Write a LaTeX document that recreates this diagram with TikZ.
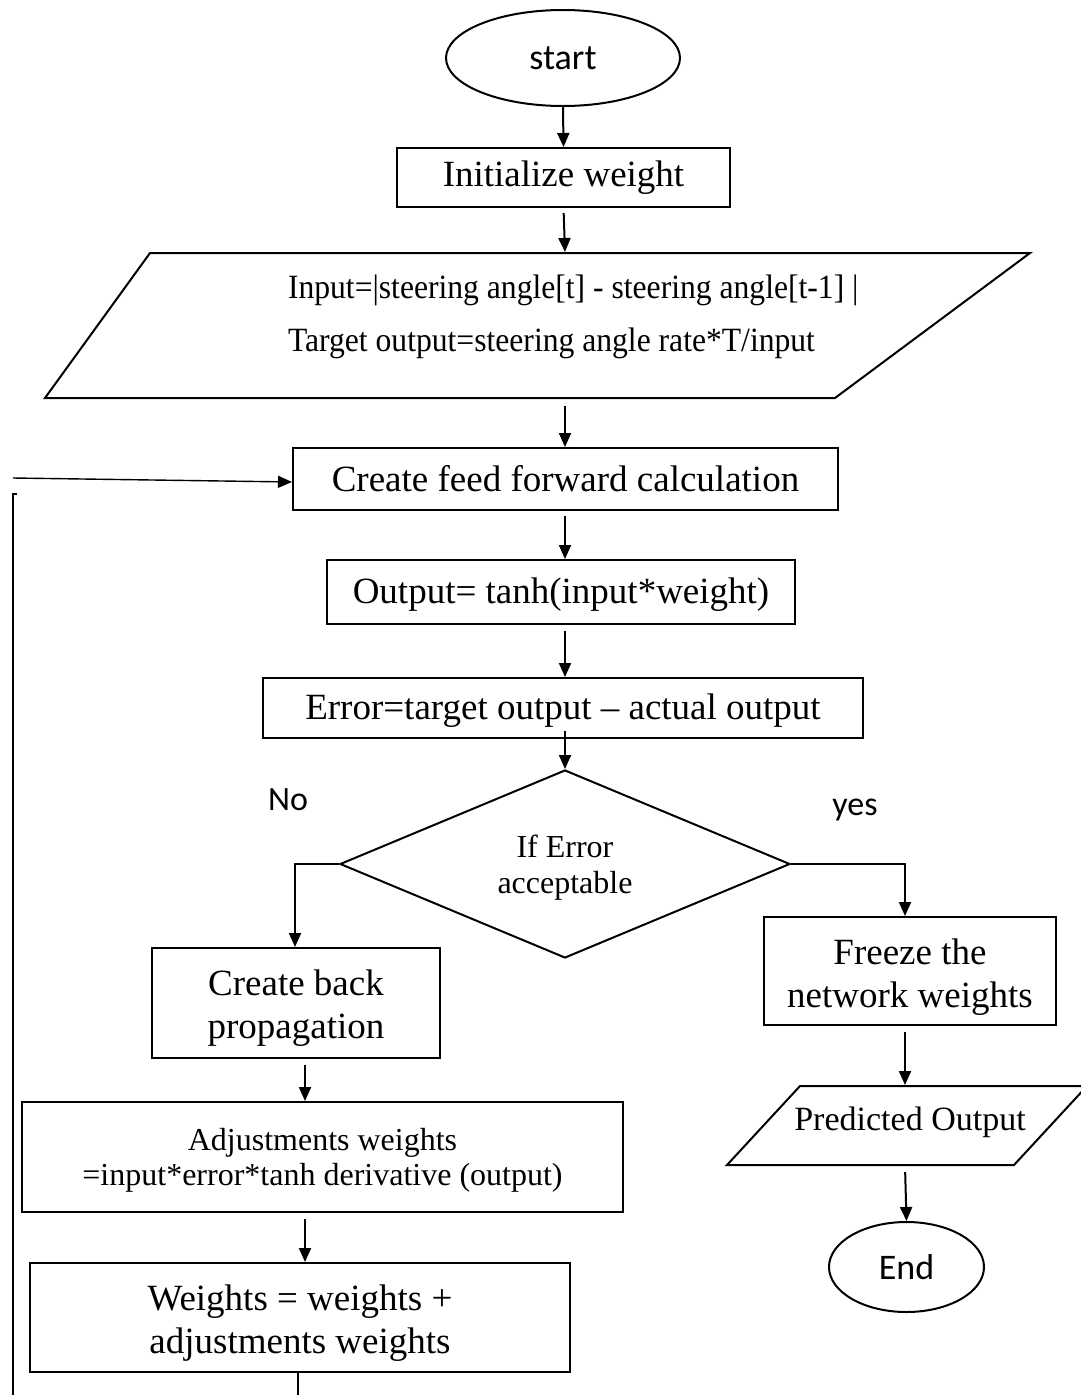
\documentclass[tikz,border=0pt]{standalone}
\usepackage{fontspec}
\setmainfont{Liberation Serif}
\newfontfamily\sansf{Carlito}
\newfontfamily\narrowf[FakeStretch=0.93]{Liberation Serif}
\usetikzlibrary{arrows.meta,shapes.geometric,calc}
\newcommand{\fs}[2]{\fontsize{#1}{#2}\selectfont}
% a strut on a first line lowers a multi-line label inside its box
\newcommand{\lowr}[1]{\rule{0pt}{#1}}
\begin{document}
\begin{tikzpicture}[x=1pt,y=-1pt,line width=2pt,
  box/.style={draw,rectangle,inner sep=0pt,align=center,font=\fs{37}{43}},
  term/.style={draw,ellipse,inner sep=0pt,font=\sansf\fs{36}{40}},
  anchorbox/.style={rectangle,inner sep=0pt},
  arr/.style={-{Triangle[length=14pt,width=12pt]},line width=2pt},
  lbl/.style={font=\sansf\fs{34}{40}}]
\useasboundingbox (0,0) rectangle (1081,1395);
\fill[white] (0,0) rectangle (1081,1395);

% terminals and process boxes
\node[term,minimum width=234,minimum height=96] (start) at (563,58) {start};
\node[box,minimum width=333,minimum height=59] (init) at (563.5,177.5) {Initialize weight};

% input parallelogram
\draw (150,253) -- (1030,253) -- (835,398) -- (45,398) -- cycle;
\node[anchorbox,minimum width=600,minimum height=145] (input) at (565,325.5) {};
\node[anchor=west,inner sep=0pt,font=\narrowf\fs{34}{40}] (inl1) at (287,290) {Input=|steering angle[t] - steering angle[t-1] |};
\node[anchor=west,inner sep=0pt,font=\narrowf\fs{34}{40}] (inl2) at (287,343) {Target output=steering angle rate*T/input};

\node[box,minimum width=545,minimum height=62] (feed) at (565.5,479) {Create feed forward calculation};
\node[box,minimum width=468,minimum height=64] (out) at (561,592) {\lowr{30pt}Output= tanh(input*weight)};
\node[box,minimum width=600,minimum height=60] (err) at (563,708) {\lowr{30pt}Error=target output -- actual output};

% decision
\node[draw,diamond,aspect=2.4,inner sep=0pt,minimum width=450,minimum height=188,align=center,font=\fs{32}{36}] (dec) at (565,864) {\lowr{30pt}If Error\\acceptable};
\node[lbl] (no) at (288,800) {No};
\node[lbl] (yes) at (855,810) {yes};

% left branch
\node[box,minimum width=288,minimum height=110] (back) at (296,1003) {\lowr{35pt}Create back\\propagation};
\node[box,minimum width=601,minimum height=110,font=\fs{32}{35}] (adj) at (322.5,1157) {\lowr{28pt}Adjustments weights\\=input*error*tanh derivative (output)};
\node[box,minimum width=540,minimum height=109] (wts) at (300,1317.5) {\lowr{36pt}Weights = weights +\\adjustments weights};

% right branch
\node[box,minimum width=292,minimum height=108] (freeze) at (910,971) {\lowr{38pt}Freeze the\\network weights};
\draw (800,1086) -- (1087,1086) -- (1014,1165) -- (727,1165) -- cycle;
\node[anchorbox,minimum width=280,minimum height=79] (pred) at (904,1125.5) {};
\node[inner sep=0pt,font=\fs{34}{40}] (predtxt) at (910,1122) {Predicted Output};
\node[term,minimum width=155,minimum height=90] (end) at (906.5,1267) {End};

% main flow
\draw[arr] (start.south) -- (init.north);
\draw[arr,shorten <=5pt] (init.south) -- (input.north);
\draw[arr,shorten <=7pt] (input.south) -- ($(feed.north)+(-0.5,0)$);
\draw[arr,shorten <=5pt] ($(feed.south)+(-0.5,0)$) -- ($(out.north)+(4,0)$);
\draw[arr,shorten <=6pt] ($(out.south)+(4,0)$) -- ($(err.north)+(2,0)$);
\draw[arr,shorten <=-8pt] ($(err.south)+(2,0)$) -- (dec.north);
\draw[arr] (dec.west) -| ($(back.north)+(-1,0)$);
\draw[arr] (dec.east) -| ($(freeze.north)+(-5,0)$);
\draw[arr,shorten <=6pt] ($(back.south)+(9,0)$) -- ($(adj.north)+(-17.5,0)$);
\draw[arr,shorten <=6pt] ($(adj.south)+(-17.5,0)$) -- ($(wts.north)+(5,0)$);
\draw[arr,shorten <=6pt] ($(freeze.south)+(-5,0)$) -- ($(pred.north)+(1,0)$);
\draw[arr,shorten <=6pt] ($(pred.south)+(1,0)$) -- (end.north);

% feedback loop back to the feed forward step
\coordinate (lpbot) at (298,1400);
\coordinate (lpleft) at (13,1400);
\coordinate (lptop) at (13,494);
\coordinate (lpin) at (13,478);
\draw[line width=1.2pt] ($(wts.south)+(-2,0)$) -- (lpbot);
\draw[line width=1.2pt] (lpleft) -- (lptop) -- ++(4,0);
\draw[arr,line width=1.4pt] (lpin) -- ($(feed.west)+(0,3)$);
\end{tikzpicture}
\end{document}
